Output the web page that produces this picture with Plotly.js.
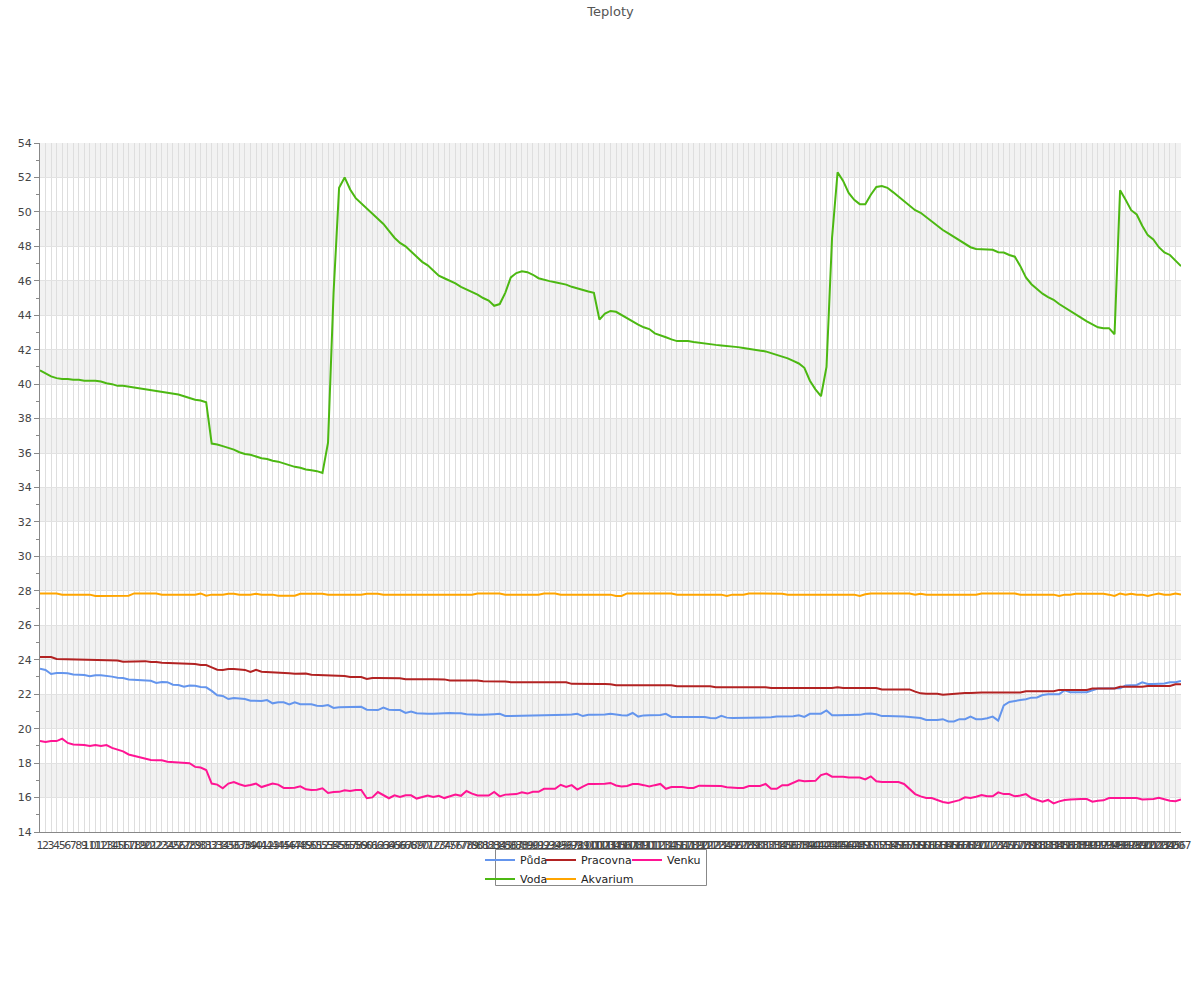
<!DOCTYPE html>
<html>
<head>
<meta charset="utf-8">
<script src="https://cdn.plot.ly/plotly-3.0.1.min.js"></script>
<style>html,body{margin:0;padding:0;background:#fff}#chart{width:1200px;height:1000px}</style>
</head>
<body>
<div id="chart"></div>
<script>
// ---- data ----
const categories = Array.from({length: 207}, (_, k) => String(k + 1));

const puda = [
23.48,23.41,23.17,23.23,23.23,23.22,23.15,23.15,23.12,23.04,23.1,23.1,23.08,23.02,22.95,22.94,22.86,22.85,22.84,22.79,
22.78,22.65,22.71,22.7,22.55,22.53,22.44,22.5,22.49,22.42,22.4,22.19,21.94,21.9,21.72,21.78,21.73,21.72,21.62,21.61,
21.61,21.66,21.47,21.53,21.53,21.41,21.53,21.42,21.41,21.41,21.33,21.32,21.37,21.2,21.24,21.25,21.24,21.28,21.27,21.1,
21.08,21.08,21.22,21.1,21.08,21.08,20.91,21.0,20.89,20.86,20.86,20.86,20.88,20.91,20.91,20.9,20.9,20.83,20.8,20.8,
20.8,20.8,20.84,20.86,20.74,20.73,20.74,20.76,20.78,20.78,20.77,20.78,20.78,20.8,20.8,20.81,20.82,20.86,20.73,20.8,
20.8,20.8,20.82,20.86,20.8,20.78,20.77,20.91,20.7,20.77,20.78,20.78,20.79,20.86,20.68,20.68,20.68,20.68,20.68,20.67,
20.68,20.62,20.6,20.75,20.64,20.62,20.62,20.62,20.63,20.62,20.62,20.63,20.66,20.7,20.7,20.7,20.72,20.78,20.68,20.86,
20.86,20.87,21.06,20.78,20.78,20.78,20.78,20.78,20.8,20.86,20.88,20.83,20.73,20.73,20.73,20.7,20.7,20.68,20.65,20.62,
20.5,20.5,20.5,20.55,20.42,20.42,20.55,20.55,20.7,20.55,20.55,20.6,20.7,20.47,21.35,21.55,21.62,21.66,21.71,21.8,
21.81,21.95,21.99,21.99,21.99,22.23,22.12,22.12,22.13,22.12,22.23,22.33,22.33,22.33,22.33,22.34,22.5,22.54,22.54,22.69,
22.59,22.59,22.6,22.62,22.69,22.7,22.77
];

const voda = [
40.8,40.6,40.45,40.35,40.3,40.3,40.25,40.25,40.2,40.2,40.2,40.15,40.05,40.0,39.9,39.9,39.85,39.8,39.75,39.7,
39.65,39.6,39.55,39.5,39.45,39.4,39.3,39.2,39.1,39.05,38.95,36.55,36.5,36.4,36.3,36.2,36.05,35.95,35.9,35.8,
35.7,35.65,35.55,35.5,35.4,35.3,35.2,35.15,35.05,35.0,34.95,34.85,36.6,45.3,51.4,52.0,51.3,50.8,50.5,50.15,
49.9,49.6,49.3,48.9,48.5,48.2,48.0,47.7,47.4,47.1,46.9,46.6,46.3,46.15,46.0,45.85,45.65,45.5,45.35,45.2,
45.0,44.85,44.55,44.65,45.3,46.2,46.45,46.55,46.5,46.35,46.15,46.05,45.98,45.92,45.85,45.78,45.65,45.55,45.45,45.38,
45.3,43.75,44.1,44.25,44.2,44.0,43.8,43.6,43.45,43.3,43.2,42.95,42.85,42.72,42.6,42.5,42.5,42.5,42.45,42.4,
42.35,42.3,42.28,42.25,42.23,42.2,42.15,42.1,42.05,42.0,41.95,41.9,41.8,41.7,41.6,41.5,41.35,41.2,40.95,40.2,
39.7,39.3,41.0,48.5,52.3,51.8,51.1,50.7,50.45,50.45,51.0,51.45,51.5,51.4,51.15,50.9,50.6,50.35,50.1,49.95,
49.7,49.4,49.2,48.95,48.75,48.55,48.3,48.1,47.95,47.85,47.84,47.82,47.8,47.66,47.64,47.5,47.4,46.85,46.2,45.8,
45.5,45.25,45.05,44.9,44.65,44.45,44.2,44.0,43.85,43.65,43.45,43.3,43.25,43.25,42.9,51.25,50.7,50.1,49.85,49.2,
48.65,48.4,47.95,47.65,47.5,47.2,46.85
];

const pracovna = [
24.16,24.16,24.16,24.05,24.04,24.04,24.04,24.03,24.0,23.99,23.99,23.98,23.98,23.97,23.95,23.89,23.89,23.93,23.93,23.92,
23.87,23.87,23.82,23.81,23.8,23.77,23.76,23.76,23.75,23.7,23.69,23.56,23.42,23.41,23.46,23.46,23.42,23.41,23.29,23.41,
23.3,23.29,23.29,23.24,23.23,23.22,23.19,23.21,23.2,23.13,23.12,23.12,23.07,23.06,23.06,23.05,23.0,23.0,23.0,22.88,
22.94,22.94,22.94,22.93,22.93,22.93,22.87,22.86,22.86,22.87,22.87,22.87,22.86,22.86,22.8,22.8,22.8,22.8,22.79,22.79,
22.75,22.75,22.75,22.75,22.74,22.7,22.7,22.7,22.7,22.7,22.7,22.69,22.7,22.7,22.69,22.69,22.6,22.59,22.59,22.59,
22.59,22.59,22.59,22.58,22.52,22.52,22.52,22.52,22.52,22.52,22.52,22.52,22.52,22.52,22.52,22.46,22.46,22.46,22.46,22.46,
22.46,22.46,22.41,22.41,22.41,22.41,22.41,22.41,22.41,22.41,22.41,22.41,22.36,22.36,22.36,22.36,22.36,22.36,22.36,22.35,
22.34,22.34,22.34,22.36,22.41,22.36,22.36,22.36,22.36,22.36,22.36,22.36,22.28,22.28,22.28,22.28,22.28,22.28,22.15,22.05,
22.03,22.03,22.03,21.97,22.0,22.03,22.07,22.07,22.07,22.1,22.1,22.1,22.1,22.1,22.1,22.1,22.1,22.1,22.17,22.17,
22.17,22.17,22.17,22.17,22.25,22.25,22.25,22.25,22.25,22.25,22.33,22.33,22.33,22.33,22.33,22.43,22.43,22.43,22.43,22.43,
22.48,22.48,22.48,22.48,22.48,22.58,22.58
];

const akvarium = [
27.85,27.85,27.85,27.85,27.78,27.78,27.78,27.78,27.78,27.78,27.7,27.7,27.72,27.72,27.72,27.72,27.72,27.85,27.85,27.85,
27.85,27.85,27.78,27.78,27.78,27.78,27.78,27.78,27.78,27.85,27.72,27.78,27.78,27.78,27.83,27.83,27.78,27.78,27.78,27.83,
27.78,27.78,27.78,27.72,27.72,27.72,27.72,27.83,27.83,27.83,27.83,27.83,27.78,27.78,27.78,27.78,27.78,27.78,27.78,27.83,
27.83,27.83,27.78,27.78,27.78,27.78,27.78,27.78,27.78,27.78,27.78,27.78,27.78,27.78,27.78,27.78,27.78,27.78,27.78,27.85,
27.85,27.85,27.85,27.85,27.78,27.78,27.78,27.78,27.78,27.78,27.78,27.85,27.85,27.85,27.78,27.78,27.78,27.78,27.78,27.78,
27.78,27.78,27.78,27.78,27.7,27.7,27.85,27.85,27.85,27.85,27.85,27.85,27.85,27.85,27.85,27.78,27.78,27.78,27.78,27.78,
27.78,27.78,27.78,27.78,27.7,27.78,27.78,27.78,27.85,27.85,27.85,27.85,27.83,27.83,27.83,27.78,27.78,27.78,27.78,27.78,
27.78,27.78,27.78,27.78,27.78,27.78,27.78,27.78,27.7,27.8,27.85,27.85,27.85,27.85,27.85,27.85,27.85,27.85,27.78,27.83,
27.78,27.78,27.78,27.78,27.78,27.78,27.78,27.78,27.78,27.78,27.85,27.85,27.85,27.85,27.85,27.85,27.85,27.78,27.78,27.78,
27.78,27.78,27.78,27.78,27.7,27.78,27.78,27.83,27.83,27.83,27.83,27.83,27.83,27.78,27.7,27.85,27.78,27.83,27.78,27.78,
27.7,27.78,27.85,27.78,27.78,27.85,27.78
];

const venku = [
19.28,19.23,19.28,19.28,19.42,19.17,19.08,19.07,19.05,18.99,19.05,18.99,19.05,18.88,18.76,18.68,18.5,18.42,18.38,18.26,
18.18,18.16,18.16,18.08,18.06,18.06,18.05,17.99,17.78,17.74,17.6,16.81,16.75,16.54,16.81,16.9,16.77,16.67,16.73,16.81,
16.61,16.73,16.81,16.75,16.56,16.56,16.57,16.65,16.48,16.44,16.45,16.54,16.27,16.32,16.33,16.42,16.38,16.44,16.44,15.96,
16.01,16.32,16.15,15.96,16.13,16.03,16.13,16.13,15.94,16.05,16.12,16.04,16.1,15.97,16.07,16.17,16.1,16.38,16.23,16.12,
16.12,16.12,16.33,16.07,16.17,16.2,16.2,16.3,16.23,16.33,16.33,16.51,16.51,16.51,16.74,16.61,16.72,16.46,16.64,16.79,
16.79,16.79,16.8,16.85,16.7,16.64,16.67,16.79,16.79,16.72,16.64,16.72,16.79,16.51,16.61,16.61,16.61,16.56,16.56,16.69,
16.69,16.69,16.67,16.67,16.6,16.56,16.56,16.56,16.67,16.67,16.67,16.79,16.51,16.51,16.72,16.72,16.85,17.0,16.95,16.95,
16.97,17.3,17.39,17.21,17.21,17.21,17.16,17.16,17.16,17.05,17.23,16.95,16.9,16.9,16.9,16.9,16.79,16.48,16.2,16.07,
15.97,15.97,15.85,15.74,15.68,15.75,15.85,16.01,15.97,16.05,16.15,16.07,16.07,16.3,16.2,16.2,16.07,16.12,16.2,15.97,
15.85,15.76,15.86,15.66,15.78,15.86,15.88,15.91,15.91,15.91,15.76,15.82,15.84,15.97,15.97,15.97,16.01,15.99,15.97,15.89,
15.89,15.92,15.99,15.91,15.81,15.79,15.89
];

const seriesNames = ['Půda', 'Voda', 'Pracovna', 'Akvarium', 'Venku'];
const yTickVals = [14,16,18,20,22,24,26,28,30,32,34,36,38,40,42,44,46,48,50,52,54];

// ---- styling ----
const FONT = 'DejaVu Sans, sans-serif';
const colors = ['#6495ed', '#4cb812', '#b22222', '#ffa500', '#ff1493'];
const legendOf = ['legend', 'legend', 'legend2', 'legend2', 'legend3'];
const seriesData = [puda, voda, pracovna, akvarium, venku];

const xNum = categories.map(Number);
const traces = seriesData.map((vals, k) => ({
  type: 'scatter', mode: 'lines', name: seriesNames[k],
  x: xNum, y: vals,
  line: {color: colors[k], width: 2},
  legend: legendOf[k],
  hoverinfo: 'x+y+name'
}));

const W = 1200, H = 1000, L = 40, R = 19, T = 143, B = 168;
const pw = W - L - R, ph = H - T - B;
const px = v => (v - L) / pw;
const py = v => (H - B - v) / ph;

// alternating bands
const shapes = [];
for (let y0 = 16; y0 < 54; y0 += 4) {
  shapes.push({type: 'rect', xref: 'paper', yref: 'y', x0: 0, x1: 1, y0: y0, y1: y0 + 2,
    fillcolor: '#f2f2f2', line: {width: 0}, layer: 'below'});
}
// legend box
shapes.push({type: 'rect', xref: 'paper', yref: 'paper',
  x0: px(495.5), x1: px(706.5), y0: py(885.5), y1: py(849.5),
  fillcolor: 'rgba(255,255,255,0)', line: {color: '#888', width: 1}, layer: 'above'});

const legendBase = {
  orientation: 'v', xanchor: 'left', yanchor: 'top', bgcolor: 'rgba(0,0,0,0)', borderwidth: 0,
  font: {family: FONT, size: 11, color: '#222'}, itemwidth: 30, tracegroupgap: 0
};
const legTop = py(845.5);

const layout = {
  width: W, height: H,
  margin: {l: L, r: R, t: T, b: B, pad: 0},
  paper_bgcolor: '#fff', plot_bgcolor: '#fff',
  font: {family: FONT, size: 11, color: '#444'},
  title: {text: 'Teploty', font: {family: FONT, size: 13, color: '#555'},
    x: 0.5, xanchor: 'center', y: 1 - 11 / H, yanchor: 'middle', xref: 'paper', yref: 'container'},
  showlegend: true,
  legend: Object.assign({}, legendBase, {x: px(480), y: legTop}),
  legend2: Object.assign({}, legendBase, {x: px(541), y: legTop}),
  legend3: Object.assign({}, legendBase, {x: px(627), y: legTop}),
  xaxis: {
    range: [1, 207], tickmode: 'array', tickvals: xNum, ticktext: categories,
    tickangle: 0, showgrid: true, gridcolor: '#dedede', gridwidth: 1,
    showline: true, linecolor: '#888', linewidth: 1, ticks: '', zeroline: false,
    ticklabelstandoff: 3,
    tickfont: {family: FONT, size: 11, color: '#444'}, fixedrange: true
  },
  yaxis: {
    range: [14, 54], tickmode: 'array', tickvals: yTickVals,
    showgrid: true, gridcolor: '#e2e2e2', gridwidth: 1,
    showline: true, linecolor: '#888', linewidth: 1, zeroline: false,
    ticks: 'outside', ticklen: 5, tickcolor: '#888', tickwidth: 1,
    minor: {ticks: 'outside', ticklen: 3, tickcolor: '#888', dtick: 1, tick0: 14, showgrid: false},
    tickfont: {family: FONT, size: 11, color: '#444'}, fixedrange: true
  },
  shapes: shapes
};

Plotly.newPlot('chart', traces, layout, {displayModeBar: false, staticPlot: true});
</script>
</body>
</html>
